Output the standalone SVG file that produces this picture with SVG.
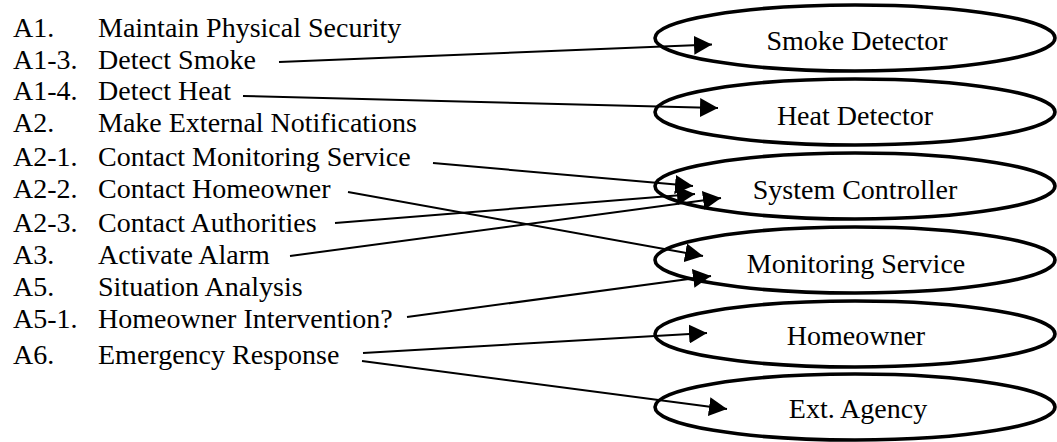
<svg xmlns="http://www.w3.org/2000/svg" width="1057" height="442" viewBox="0 0 1057 442">
  <style>
    text { font-family: "Liberation Serif", "Times New Roman", serif; font-size: 28px; fill: #000; }
    .lbl { text-anchor: middle; }
    .node ellipse { fill: none; stroke: #000; stroke-width: 3.6; }
    .conn line { stroke: #000; stroke-width: 2; fill: none; marker-end: url(#arrow); }
  </style>
  <defs>
    <marker id="arrow" markerUnits="userSpaceOnUse" markerWidth="18" markerHeight="19" refX="18" refY="9.5" orient="auto">
      <path d="M0,0 L18,9.5 L0,19 Z" fill="#000"/>
    </marker>
  </defs>
  <rect width="1057" height="442" fill="#fff"/>

  <!-- activity list -->
  <g id="activities">
    <text x="13" y="37">A1.</text><text x="98" y="37">Maintain Physical Security</text>
    <text x="13" y="69">A1-3.</text><text x="98" y="69">Detect Smoke</text>
    <text x="13" y="100">A1-4.</text><text x="98" y="100">Detect Heat</text>
    <text x="13" y="132">A2.</text><text x="98" y="132">Make External Notifications</text>
    <text x="13" y="166">A2-1.</text><text x="98" y="166">Contact Monitoring Service</text>
    <text x="13" y="198">A2-2.</text><text x="98" y="198">Contact Homeowner</text>
    <text x="13" y="232">A2-3.</text><text x="98" y="232">Contact Authorities</text>
    <text x="13" y="264">A3.</text><text x="98" y="264">Activate Alarm</text>
    <text x="13" y="296">A5.</text><text x="98" y="296">Situation Analysis</text>
    <text x="13" y="328">A5-1.</text><text x="98" y="328">Homeowner Intervention?</text>
    <text x="13" y="364">A6.</text><text x="98" y="364">Emergency Response</text>
  </g>

  <!-- actors -->
  <g id="smoke-detector" class="node">
    <ellipse cx="855" cy="38" rx="200" ry="33"/>
    <text class="lbl" x="857" y="50">Smoke Detector</text>
  </g>
  <g id="heat-detector" class="node">
    <ellipse cx="855" cy="112" rx="200" ry="33"/>
    <text class="lbl" x="855" y="125">Heat Detector</text>
  </g>
  <g id="system-controller" class="node">
    <ellipse cx="855" cy="186" rx="200" ry="33"/>
    <text class="lbl" x="855" y="199">System Controller</text>
  </g>
  <g id="monitoring-service" class="node">
    <ellipse cx="855" cy="260" rx="200" ry="33"/>
    <text class="lbl" x="856" y="273">Monitoring Service</text>
  </g>
  <g id="homeowner" class="node">
    <ellipse cx="855" cy="334" rx="200" ry="33"/>
    <text class="lbl" x="856" y="345">Homeowner</text>
  </g>
  <g id="ext-agency" class="node">
    <ellipse cx="855" cy="407" rx="200" ry="33"/>
    <text class="lbl" x="858" y="418">Ext. Agency</text>
  </g>

  <!-- connectors -->
  <g id="connectors" class="conn">
    <line x1="279" y1="62" x2="712" y2="44.5"/>
    <line x1="243" y1="96" x2="718" y2="108"/>
    <line x1="433" y1="163" x2="693" y2="186"/>
    <line x1="348" y1="192" x2="703" y2="256"/>
    <line x1="335" y1="223" x2="695" y2="194"/>
    <line x1="290" y1="256" x2="721" y2="198"/>
    <line x1="407" y1="317" x2="711" y2="276"/>
    <line x1="363" y1="353" x2="707" y2="333"/>
    <line x1="362" y1="361" x2="727" y2="409"/>
  </g>
</svg>
